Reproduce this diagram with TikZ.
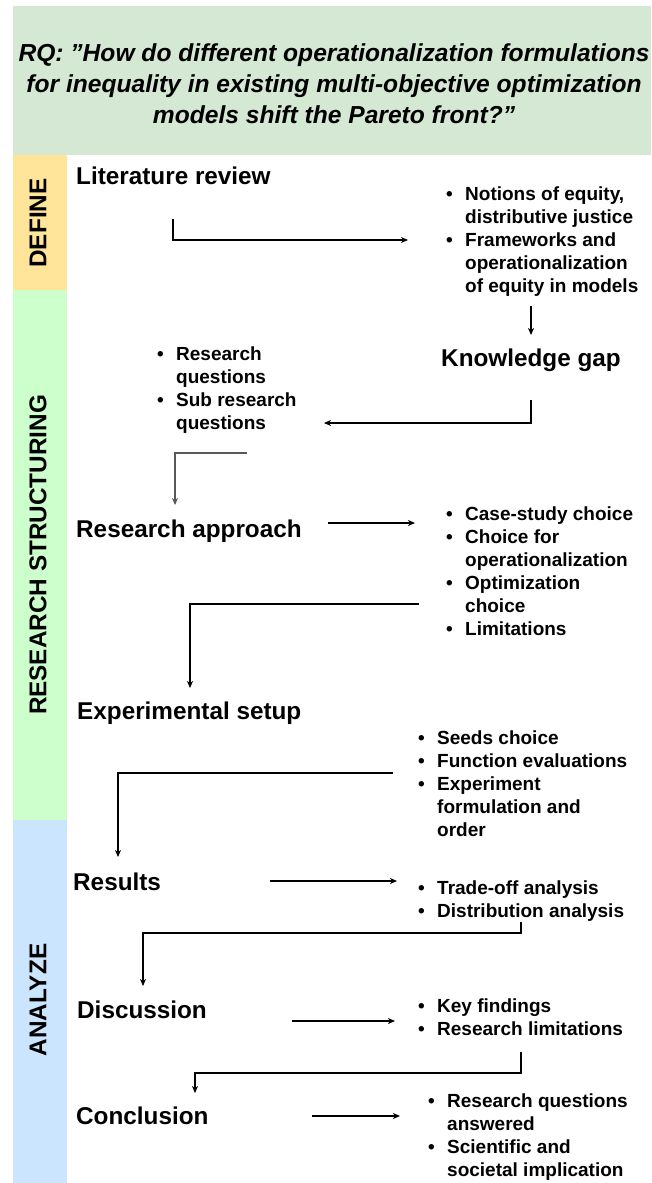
\documentclass[tikz,border=0pt]{standalone}
\usepackage{fontspec}
\setmainfont{Liberation Sans}
\usetikzlibrary{arrows.meta}
\definecolor{hdrgreen}{HTML}{D5E8D4}
\definecolor{defyellow}{HTML}{FFE599}
\definecolor{strgreen}{HTML}{CCFFCC}
\definecolor{anablue}{HTML}{CCE5FF}
\newcommand{\bul}{\makebox[19pt][l]{•}}
\newcommand{\blist}[1]{\fontsize{19}{23}\selectfont\bfseries\begin{tabular}[t]{@{}l@{}l@{}}#1\end{tabular}}
\begin{document}
\begin{tikzpicture}[x=1pt,y=-1pt,
  band/.style={fill=#1, draw=none, inner sep=0, minimum width=54pt, anchor=north west},
  phase/.style={rotate=90, inner sep=0, font=\bfseries\fontsize{24.3}{29}\selectfont},
  heading/.style={anchor=base west, inner sep=0, font=\bfseries\fontsize{24.3}{29}\selectfont},
  items/.style={anchor=base west, inner sep=0},
  arr/.style={-{Stealth[length=7pt,width=6pt,inset=2pt]}, line width=1.1pt, black},
  arrgray/.style={arr, draw=black!65}]
\useasboundingbox (0,0) rectangle (651,1183);
\fill[white] (0,0) rectangle (651,1183);

% research question banner
\node[fill=hdrgreen, inner sep=0, minimum width=638pt, minimum height=149pt, anchor=north west] (hdr) at (13,6) {};
\node[align=center, inner sep=0, font=\bfseries\itshape\fontsize{24.6}{31}\selectfont] (rq) at (334,84)
  {RQ: "How do different operationalization formulations\\for inequality in existing multi-objective optimization\\models shift the Pareto front?"};

% phase bands on the left
\node[band=defyellow, minimum height=135pt] (bdef) at (13,155) {};
\node[band=strgreen, minimum height=530pt] (bstr) at (13,290) {};
\node[band=anablue, minimum height=363pt] (bana) at (13,820) {};
\node[phase] (ldef) at (38,223) {DEFINE};
\node[phase] (lstr) at (38,555) {RESEARCH STRUCTURING};
\node[phase] (lana) at (38,1000) {ANALYZE};

% steps
\node[heading] (lit) at (76,184.5) {Literature review};
\node[heading] (gap) at (441,366.5) {Knowledge gap};
\node[heading] (appr) at (76,537) {Research approach};
\node[heading] (exp) at (77,719) {Experimental setup};
\node[heading] (res) at (73,890) {Results};
\node[heading] (disc) at (77,1018) {Discussion};
\node[heading] (conc) at (76,1124) {Conclusion};

% bullet lists
\node[items] (l1) at (446,200) {\blist{\bul & Notions of equity,\\ & distributive justice\\ \bul & Frameworks and\\ & operationalization\\ & of equity in models}};
\node[items] (l2) at (157,360) {\blist{\bul & Research\\ & questions\\ \bul & Sub research\\ & questions}};
\node[items] (l3) at (446,520) {\blist{\bul & Case-study choice\\ \bul & Choice for\\ & operationalization\\ \bul & Optimization\\ & choice\\ \bul & Limitations}};
\node[items] (l4) at (418,744) {\blist{\bul & Seeds choice\\ \bul & Function evaluations\\ \bul & Experiment\\ & formulation and\\ & order}};
\node[items] (l5) at (418,894) {\blist{\bul & Trade-off analysis\\ \bul & Distribution analysis}};
\node[items] (l6) at (418,1012) {\blist{\bul & Key findings\\ \bul & Research limitations}};
\node[items] (l7) at (428,1107) {\blist{\bul & Research questions\\ & answered\\ \bul & Scientific and\\ & societal implication}};

% connector end points
\coordinate (a1s) at (173,219);  \coordinate (a1e) at (408,240);
\coordinate (a2s) at (531,306);  \coordinate (a2e) at (531,335);
\coordinate (a3s) at (531,400);  \coordinate (a3e) at (324,423);
\coordinate (a4s) at (247,453);  \coordinate (a4e) at (175,505);
\coordinate (a5s) at (328,523);  \coordinate (a5e) at (415,523);
\coordinate (a6s) at (419,604);  \coordinate (a6e) at (190,688);
\coordinate (a7s) at (393,773);  \coordinate (a7e) at (118,857);
\coordinate (a8s) at (270,881);  \coordinate (a8e) at (397,881);
\coordinate (a9s) at (521,922);  \coordinate (a9e) at (143,986);
\coordinate (a10s) at (292,1021); \coordinate (a10e) at (395,1021);
\coordinate (a11s) at (521,1052); \coordinate (a11e) at (195,1093);
\coordinate (a12s) at (312,1116); \coordinate (a12e) at (400,1116);

% connectors
\draw[arr] (a1s) |- (a1e);
\draw[arr] (a2s) -- (a2e);
\draw[arr] (a3s) |- (a3e);
\draw[arrgray] (a4s) -| (a4e);
\draw[arr] (a5s) -- (a5e);
\draw[arr] (a6s) -| (a6e);
\draw[arr] (a7s) -| (a7e);
\draw[arr] (a8s) -- (a8e);
\draw[arr] (a9s) -- ++(0,11) -| (a9e);
\draw[arr] (a10s) -- (a10e);
\draw[arr] (a11s) -- ++(0,21) -| (a11e);
\draw[arr] (a12s) -- (a12e);
\end{tikzpicture}
\end{document}
